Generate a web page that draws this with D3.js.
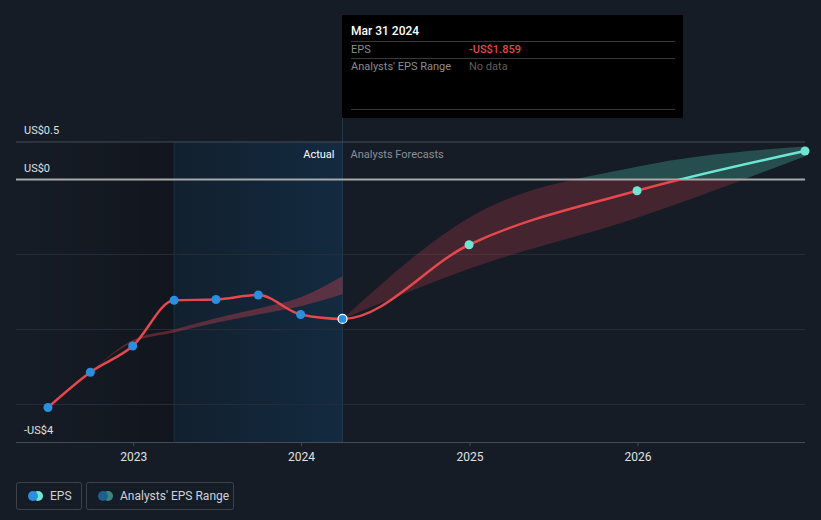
<!DOCTYPE html>
<html><head><meta charset="utf-8">
<script src="https://cdn.jsdelivr.net/npm/d3@7"></script>
<style>
html,body{margin:0;padding:0;background:#161c26;}
svg{display:block;font-family:Roboto,"Noto Sans",sans-serif;}
</style></head>
<body>
<svg id="chart" width="821" height="520"></svg>
<script>
// ---------- data ----------
const actualDates = ["2022-06-30","2022-09-30","2022-12-31","2023-03-31","2023-06-30","2023-09-30","2023-12-31","2024-03-31"];
const actualEPS   = [-3.04, -2.57, -2.22, -1.61, -1.60, -1.54, -1.80, -1.859];
const forecastDates = ["2024-03-31","2024-12-31","2025-12-31","2026-12-31"];
const forecastEPS   = [-1.859, -0.87, -0.15, 0.38];
const forecastHigh  = [-1.859, -0.51, 0.17, 0.44];
const forecastLow   = [-1.859, -1.19, -0.51, 0.31];
const pastRangeDates = ["2022-09-30","2022-12-31","2023-03-31","2023-06-30","2023-09-30","2023-12-31","2024-03-31"];
const pastRangeHigh  = [-2.57, -2.14, -2.00, -1.85, -1.72, -1.57, -1.29];
const pastRangeLow   = [-2.57, -2.17, -2.04, -1.91, -1.80, -1.69, -1.53];
const yTickValues = [0.5, 0, -3.5];
const yTickLabels = ["US$0.5", "US$0", "-US$4"];
const gridValues  = [-1, -2, -3];
const xTickYears  = ["2023","2024","2025","2026"];
const tooltipDate = "Mar 31 2024";
const tooltipEPS  = "-US$1.859";

(function(){
// ---------- setup ----------
const parse = d3.timeParse("%Y-%m-%d");
const svg = d3.select("#chart");
const W = 821, H = 520;
const pL = 16, pR = 805, pT = 142, pB = 442;
const x = d3.scaleTime().domain([parse("2022-06-30"), parse("2026-12-31")]).range([48, 805]);
const y = d3.scaleLinear().domain([-3.5, 0.5]).range([pB, pT]);

const defs = svg.append("defs");
const gLeft = defs.append("linearGradient").attr("id","gLeft").attr("x1","0").attr("x2","1").attr("y1","0").attr("y2","0");
gLeft.append("stop").attr("offset","0").attr("stop-color","#000").attr("stop-opacity",0.0);
gLeft.append("stop").attr("offset","1").attr("stop-color","#000").attr("stop-opacity",0.22);
const gHi = defs.append("linearGradient").attr("id","gHi").attr("x1","0").attr("x2","1").attr("y1","0").attr("y2","0");
gHi.append("stop").attr("offset","0").attr("stop-color","#12202e");
gHi.append("stop").attr("offset","1").attr("stop-color","#132a40");

defs.append("clipPath").attr("id","below").append("rect")
  .attr("x",0).attr("y",y(0)).attr("width",W).attr("height",H);
defs.append("clipPath").attr("id","above").append("rect")
  .attr("x",0).attr("y",0).attr("width",W).attr("height",y(0));

const hiStart = parse("2023-03-31"), hiEnd = parse("2024-03-31");

// background regions
svg.append("rect").attr("x",pL).attr("y",pT).attr("width",x(hiStart)-pL).attr("height",pB-pT)
  .attr("fill","url(#gLeft)");
svg.append("rect").attr("x",x(hiStart)).attr("y",pT).attr("width",x(hiEnd)-x(hiStart)).attr("height",pB-pT)
  .attr("fill","url(#gHi)");
svg.append("line").attr("x1",x(hiStart)).attr("x2",x(hiStart)).attr("y1",pT).attr("y2",pB)
  .attr("stroke","#1b2d3e").attr("stroke-width",1);
svg.append("line").attr("x1",x(hiEnd)).attr("x2",x(hiEnd)).attr("y1",118).attr("y2",pB)
  .attr("stroke","#23384e").attr("stroke-width",1);

// gridlines
svg.selectAll("line.grid").data(gridValues).join("line").attr("class","grid")
  .attr("x1",pL).attr("x2",pR).attr("y1",d=>y(d)).attr("y2",d=>y(d))
  .attr("stroke","#252c37").attr("stroke-width",1);
svg.append("line").attr("x1",pL).attr("x2",pR).attr("y1",y(0.5)).attr("y2",y(0.5))
  .attr("stroke","#464c56").attr("stroke-width",1);

// x axis
const xAxis = d3.axisBottom(x)
  .tickValues(xTickYears.map(s=>parse(s+"-01-01")))
  .tickFormat(d3.timeFormat("%Y")).tickSize(4).tickPadding(6);
const gx = svg.append("g").attr("transform",`translate(0,${pB})`).call(xAxis);
gx.select(".domain").remove();
gx.append("line").attr("x1",pL).attr("x2",pR).attr("y1",0.5).attr("y2",0.5).attr("stroke","#464c56");
gx.selectAll(".tick line").attr("stroke","#464c56");
gx.selectAll(".tick text").attr("fill","#e0e0e0").attr("font-size",12).attr("font-family","Roboto,sans-serif");

// past analyst range band
const band = d3.area().curve(d3.curveMonotoneX)
  .x(d=>x(d.date)).y0(d=>y(d.lo)).y1(d=>y(d.hi));
const pastData = pastRangeDates.map((d,i)=>({date:parse(d),hi:pastRangeHigh[i],lo:pastRangeLow[i]}));
svg.append("path").datum(pastData).attr("d",band).attr("fill","#c8404e").attr("fill-opacity",0.4);

// forecast band
const fData = forecastDates.map((d,i)=>({date:parse(d),hi:forecastHigh[i],lo:forecastLow[i],v:forecastEPS[i]}));
svg.append("path").datum(fData).attr("d",band).attr("fill","#d0404a").attr("fill-opacity",0.25).attr("clip-path","url(#below)");
svg.append("path").datum(fData).attr("d",band).attr("fill","#4fc3b0").attr("fill-opacity",0.3).attr("clip-path","url(#above)");

// zero line
svg.append("line").attr("x1",pL).attr("x2",pR).attr("y1",y(0)).attr("y2",y(0))
  .attr("stroke","#a8a8a8").attr("stroke-width",2);

// EPS line
const lineData = actualDates.map((d,i)=>({date:parse(d),v:actualEPS[i]}))
  .concat(fData.slice(1).map(d=>({date:d.date,v:d.v})));
const line = d3.line().curve(d3.curveMonotoneX).x(d=>x(d.date)).y(d=>y(d.v));
svg.append("path").datum(lineData).attr("d",line).attr("fill","none").attr("stroke","#e5484d")
  .attr("stroke-width",2.5).attr("clip-path","url(#below)");
svg.append("path").datum(lineData).attr("d",line).attr("fill","none").attr("stroke","#6ee6d3")
  .attr("stroke-width",2.5).attr("clip-path","url(#above)");

// points
const nA = actualDates.length;
svg.selectAll("circle.act").data(lineData.slice(0,nA)).join("circle").attr("class","act")
  .attr("cx",d=>x(d.date)).attr("cy",d=>y(d.v)).attr("r",4.5)
  .attr("fill","#2b8fe0")
  .attr("stroke",(d,i)=>i===nA-1?"#ffffff":"none")
  .attr("stroke-width",1.2);
svg.selectAll("circle.fc").data(fData.slice(1)).join("circle").attr("class","fc")
  .attr("cx",d=>x(d.date)).attr("cy",d=>y(d.v)).attr("r",4.5).attr("fill","#6ee6d3");

// y labels
svg.selectAll("text.ylab").data(yTickValues).join("text").attr("class","ylab")
  .attr("x",24).attr("y",d=>y(d)-8).text((d,i)=>yTickLabels[i])
  .attr("fill","#e0e0e0").attr("font-size",11);

// Actual / Forecast labels
svg.append("text").attr("x",x(hiEnd)-8).attr("y",158).attr("text-anchor","end")
  .attr("fill","#ffffff").attr("font-size",11).text("Actual");
svg.append("text").attr("x",x(hiEnd)+8).attr("y",158)
  .attr("fill","#8a8f96").attr("font-size",11).text("Analysts Forecasts");

// tooltip
const tt = svg.append("g").attr("transform","translate(342,15)");
tt.append("rect").attr("width",341).attr("height",103).attr("fill","#000");
tt.append("text").attr("x",9).attr("y",20).attr("fill","#fff").attr("font-size",12).attr("font-weight",500).text(tooltipDate);
tt.append("line").attr("x1",9).attr("x2",333).attr("y1",26.5).attr("y2",26.5).attr("stroke","#3a3a3a");
tt.append("text").attr("x",9).attr("y",37.5).attr("fill","#8c8c8c").attr("font-size",11).text("EPS");
tt.append("text").attr("x",127).attr("y",37.5).attr("fill","#e5484d").attr("font-size",11).attr("font-weight",500).text(tooltipEPS);
tt.append("line").attr("x1",9).attr("x2",333).attr("y1",43.5).attr("y2",43.5).attr("stroke","#3a3a3a");
tt.append("text").attr("x",9).attr("y",54.5).attr("fill","#8c8c8c").attr("font-size",11).text("Analysts' EPS Range");
tt.append("text").attr("x",127).attr("y",54.5).attr("fill","#5e5e5e").attr("font-size",11).text("No data");
tt.append("line").attr("x1",9).attr("x2",333).attr("y1",94.5).attr("y2",94.5).attr("stroke","#3a3a3a");

// legend
const lg = svg.append("g");
lg.append("rect").attr("x",16.5).attr("y",482.5).attr("width",65).attr("height",27).attr("rx",2)
  .attr("fill","none").attr("stroke","#3c424c");
lg.append("circle").attr("cx",38).attr("cy",496).attr("r",5).attr("fill","#6ee6d3");
lg.append("circle").attr("cx",33).attr("cy",496).attr("r",5).attr("fill","#2b8fe0");
lg.append("text").attr("x",50).attr("y",500).attr("fill","#cfd2d6").attr("font-size",12).text("EPS");
lg.append("rect").attr("x",86.5).attr("y",482.5).attr("width",147).attr("height",27).attr("rx",2)
  .attr("fill","none").attr("stroke","#3c424c");
lg.append("circle").attr("cx",108).attr("cy",496).attr("r",5).attr("fill","#3a8580");
lg.append("circle").attr("cx",103).attr("cy",496).attr("r",5).attr("fill","#1f5f90");
lg.append("text").attr("x",120).attr("y",500).attr("fill","#cfd2d6").attr("font-size",12).text("Analysts' EPS Range");
})();
</script>
</body></html>
